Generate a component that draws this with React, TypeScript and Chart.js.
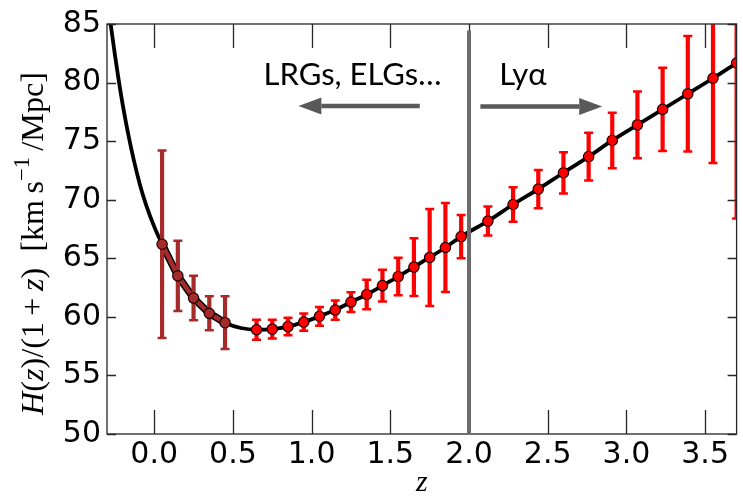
import React, { useEffect, useRef } from "react";
import { Chart, registerables } from "chart.js";
Chart.register(...registerables);

// ---- axes ----
const xTickValues = [0, 0.5, 1.0, 1.5, 2.0, 2.5, 3.0, 3.5];
const yTickValues = [50, 55, 60, 65, 70, 75, 80, 85];
const xRange = [-0.3, 3.7];
const yRange = [50, 85];

// ---- theory curve H(z)/(1+z) ----
const curveZ = [-0.3, -0.279, -0.25, -0.228, -0.2, -0.168, -0.13, -0.089, -0.05, 0.0, 0.05, 0.15, 0.25, 0.35, 0.45, 0.55, 0.65, 0.75, 0.85, 0.95, 1.05, 1.15, 1.25, 1.35, 1.45, 1.55, 1.65, 1.75, 1.85, 1.95, 2.12, 2.28, 2.44, 2.6, 2.76, 2.91, 3.07, 3.23, 3.39, 3.55, 3.7];
const curveH = [87.4, 85.2, 82.4, 80.4, 78.1, 75.8, 73.4, 71.2, 69.5, 67.7, 66.2, 63.5, 61.6, 60.3, 59.5, 59.05, 58.9, 58.95, 59.17, 59.55, 60.05, 60.58, 61.26, 61.91, 62.67, 63.44, 64.25, 65.07, 65.92, 66.85, 68.18, 69.59, 70.91, 72.3, 73.68, 75.06, 76.39, 77.71, 79.04, 80.37, 81.67];

// ---- low-z galaxy points (brown) ----
const lowZ = [0.05, 0.15, 0.25, 0.35, 0.45];
const lowH = [66.2, 63.5, 61.6, 60.3, 59.5];
const lowErr = [8.0, 3.0, 1.9, 1.45, 2.25];

// ---- galaxy forecast points (red) ----
const galZ = [0.65, 0.75, 0.85, 0.95, 1.05, 1.15, 1.25, 1.35, 1.45, 1.55, 1.65, 1.75, 1.85, 1.95];
const galH = [58.9, 58.95, 59.17, 59.55, 60.05, 60.58, 61.26, 61.91, 62.67, 63.44, 64.25, 65.07, 65.92, 66.85];
const galErr = [0.85, 0.8, 0.75, 0.73, 0.8, 0.82, 0.84, 1.25, 1.36, 1.6, 2.47, 4.14, 3.8, 1.85];

// ---- Lyman-alpha forecast points (red) ----
const lyaZ = [2.12, 2.28, 2.44, 2.6, 2.76, 2.91, 3.07, 3.23, 3.39, 3.55, 3.7];
const lyaH = [68.18, 69.59, 70.91, 72.3, 73.68, 75.06, 76.39, 77.71, 79.04, 80.37, 81.67];
const lyaErr = [1.24, 1.47, 1.63, 1.76, 2.04, 2.37, 2.84, 3.55, 4.93, 7.23, 13.27];

// ---- annotations ----
const dividerZ = 2.0;
const dividerTop = 84.45;
const leftLabel = "LRGs, ELGs…";
const rightLabel = "Lyα";
const leftLabelPos = [1.26, 79.83];
const rightLabelPos = [2.342, 79.8];
const leftArrow = [1.687, 0.916, 78.0];
const rightArrow = [2.072, 2.846, 77.95];
const xTitle = "z";

const BROWN = "#a52a2a";
const RED = "#ff0000";

const pts = (xs: number[], ys: number[]) => xs.map((x, i) => ({ x, y: ys[i] }));

export default function App() {
  const ref = useRef<HTMLCanvasElement>(null);

  useEffect(() => {
    const canvas = ref.current!;

    const drawErr = (chart: any, meta: any, ds: any) => {
      const ys = chart.scales.y;
      const ctx = chart.ctx as CanvasRenderingContext2D;
      const a = chart.chartArea;
      ctx.save();
      ctx.beginPath();
      ctx.rect(a.left, a.top, a.right - a.left, a.bottom - a.top);
      ctx.clip();
      ctx.strokeStyle = ds.errColor;
      meta.data.forEach((el: any, i: number) => {
        const v = ds.data[i].y;
        const e = ds.errors[i];
        const y1 = ys.getPixelForValue(v + e);
        const y2 = ys.getPixelForValue(v - e);
        ctx.lineWidth = 4.2;
        ctx.lineCap = "butt";
        ctx.beginPath();
        ctx.moveTo(el.x, y1);
        ctx.lineTo(el.x, y2);
        ctx.stroke();
        ctx.lineWidth = 2.5;
        ctx.beginPath();
        ctx.moveTo(el.x - 4.5, y1);
        ctx.lineTo(el.x + 4.5, y1);
        ctx.moveTo(el.x - 4.5, y2);
        ctx.lineTo(el.x + 4.5, y2);
        ctx.stroke();
      });
      ctx.restore();
    };

    const drawArrow = (ctx: CanvasRenderingContext2D, x0: number, x1: number, y: number) => {
      const dir = Math.sign(x1 - x0);
      const headLen = 23;
      const headHalf = 8.5;
      ctx.save();
      ctx.strokeStyle = "#595959";
      ctx.fillStyle = "#595959";
      ctx.lineWidth = 4.5;
      ctx.beginPath();
      ctx.moveTo(x0, y);
      ctx.lineTo(x1 - dir * headLen, y);
      ctx.stroke();
      ctx.beginPath();
      ctx.moveTo(x1, y);
      ctx.lineTo(x1 - dir * headLen, y - headHalf);
      ctx.lineTo(x1 - dir * headLen, y + headHalf);
      ctx.closePath();
      ctx.fill();
      ctx.restore();
    };

    const deco = {
      id: "deco",
      beforeDatasetDraw(chart: any, args: any) {
        const ds = chart.data.datasets[args.index];
        if (ds.errors) drawErr(chart, args.meta, ds);
      },
      afterDatasetsDraw(chart: any) {
        const ctx = chart.ctx as CanvasRenderingContext2D;
        const xs = chart.scales.x;
        const ys = chart.scales.y;
        const a = chart.chartArea;

        // frame + inward ticks
        ctx.save();
        ctx.strokeStyle = "#262626";
        ctx.lineWidth = 1.3;
        ctx.strokeRect(a.left, a.top, a.right - a.left, a.bottom - a.top);
        ctx.beginPath();
        xTickValues.forEach((v) => {
          const px = Math.round(xs.getPixelForValue(v)) + 0.5;
          ctx.moveTo(px, a.bottom);
          ctx.lineTo(px, a.bottom - 24);
          ctx.moveTo(px, a.top);
          ctx.lineTo(px, a.top + 24);
        });
        yTickValues.forEach((v) => {
          const py = Math.round(ys.getPixelForValue(v)) + 0.5;
          ctx.moveTo(a.left, py);
          ctx.lineTo(a.left + 9, py);
          ctx.moveTo(a.right, py);
          ctx.lineTo(a.right - 9, py);
        });
        ctx.stroke();
        ctx.restore();

        // divider
        ctx.save();
        ctx.strokeStyle = "#6b6b6b";
        ctx.lineWidth = 4;
        const dx = xs.getPixelForValue(dividerZ);
        ctx.beginPath();
        ctx.moveTo(dx, ys.getPixelForValue(dividerTop));
        ctx.lineTo(dx, ys.getPixelForValue(yRange[0]));
        ctx.stroke();
        ctx.restore();

        // labels
        ctx.save();
        ctx.fillStyle = "#000";
        ctx.font = "31px Lato, 'Open Sans', sans-serif";
        ctx.textAlign = "center";
        ctx.textBaseline = "alphabetic";
        ctx.fillText(leftLabel, xs.getPixelForValue(leftLabelPos[0]), ys.getPixelForValue(leftLabelPos[1]));
        ctx.fillText(rightLabel, xs.getPixelForValue(rightLabelPos[0]), ys.getPixelForValue(rightLabelPos[1]));
        ctx.restore();

        drawArrow(ctx, xs.getPixelForValue(leftArrow[0]), xs.getPixelForValue(leftArrow[1]), ys.getPixelForValue(leftArrow[2]));
        drawArrow(ctx, xs.getPixelForValue(rightArrow[0]), xs.getPixelForValue(rightArrow[1]), ys.getPixelForValue(rightArrow[2]));
      },
      afterDraw(chart: any) {
        const ctx = chart.ctx as CanvasRenderingContext2D;
        const a = chart.chartArea;
        // x title
        ctx.save();
        ctx.fillStyle = "#000";
        ctx.font = "italic 30px 'Liberation Serif', serif";
        ctx.textAlign = "center";
        ctx.textBaseline = "alphabetic";
        ctx.fillText(xTitle, (a.left + a.right) / 2, 491);
        ctx.restore();

        // y title with mathtext-like formatting
        const segs = [
          { t: "H", it: true },
          { t: "(", it: false },
          { t: "z", it: true },
          { t: ")/(1\u2009+\u2009", it: false },
          { t: "z", it: true },
          { t: ")\u2002[km\u2009s", it: false },
          { t: "\u22121", sup: true },
          { t: "\u2009/Mpc]", it: false },
        ] as { t: string; it?: boolean; sup?: boolean }[];
        const fam = "'Liberation Serif', serif";
        const fontFor = (s: any, F: number) => `${s.it ? "italic " : ""}${s.sup ? F * 0.7 : F}px ${fam}`;
        const measure = (F: number) =>
          segs.reduce((w, s) => {
            ctx.font = fontFor(s, F);
            return w + ctx.measureText(s.t).width;
          }, 0);
        const F = (30 * 343) / measure(30);
        const total = measure(F);
        ctx.save();
        ctx.translate(43, 243.5);
        ctx.rotate(-Math.PI / 2);
        ctx.fillStyle = "#000";
        ctx.textAlign = "left";
        ctx.textBaseline = "alphabetic";
        let x = -total / 2;
        segs.forEach((s) => {
          ctx.font = fontFor(s, F);
          ctx.fillText(s.t, x, s.sup ? -F * 0.42 : 0);
          x += ctx.measureText(s.t).width;
        });
        ctx.restore();
      },
    };

    const chart = new Chart(canvas, {
      type: "scatter",
      data: {
        datasets: [
          {
            label: "theory",
            data: pts(curveZ, curveH),
            showLine: true,
            borderColor: "#000",
            borderWidth: 3.8,
            pointRadius: 0,
            cubicInterpolationMode: "monotone",
            clip: 0,
            order: 10,
          } as any,
          {
            label: "low edge",
            data: pts(lowZ, lowH),
            showLine: true,
            borderColor: "#000",
            borderWidth: 7.5,
            pointRadius: 0,
            order: 9,
          } as any,
          {
            label: "low band",
            data: pts(lowZ, lowH),
            showLine: true,
            borderColor: BROWN,
            borderWidth: 4.5,
            pointRadius: 0,
            order: 8,
          } as any,
          {
            label: "low",
            data: pts(lowZ, lowH),
            errors: lowErr,
            errColor: BROWN,
            pointRadius: 5.2,
            pointBackgroundColor: BROWN,
            pointBorderColor: "#1a0000",
            pointBorderWidth: 1.2,
            clip: 0,
            order: 3,
          } as any,
          {
            label: "gal",
            data: pts(galZ, galH),
            errors: galErr,
            errColor: RED,
            pointRadius: 5.2,
            pointBackgroundColor: RED,
            pointBorderColor: "#1a0000",
            pointBorderWidth: 1.2,
            clip: 0,
            order: 2,
          } as any,
          {
            label: "lya",
            data: pts(lyaZ, lyaH),
            errors: lyaErr,
            errColor: RED,
            pointRadius: 5.2,
            pointBackgroundColor: RED,
            pointBorderColor: "#1a0000",
            pointBorderWidth: 1.2,
            clip: 0,
            order: 1,
          } as any,
        ],
      },
      options: {
        animation: false,
        responsive: false,
        devicePixelRatio: 1,
        layout: { padding: { top: 21, right: 6, left: 0, bottom: 0 } },
        plugins: { legend: { display: false }, tooltip: { enabled: false } },
        scales: {
          x: {
            type: "linear",
            min: xRange[0],
            max: xRange[1],
            afterBuildTicks: (s: any) => {
              s.ticks = xTickValues.map((v) => ({ value: v }));
            },
            afterFit: (s: any) => {
              s.height = 64;
            },
            ticks: {
              color: "#000",
              font: { family: "'DejaVu Sans'", size: 30 },
              padding: 3,
              maxRotation: 0,
              autoSkip: false,
              callback: (v: any) => Number(v).toFixed(1),
            },
            grid: { display: false, drawTicks: false },
            border: { display: false },
          },
          y: {
            type: "linear",
            min: yRange[0],
            max: yRange[1],
            afterBuildTicks: (s: any) => {
              s.ticks = yTickValues.map((v) => ({ value: v }));
            },
            afterFit: (s: any) => {
              s.width = 107;
            },
            ticks: {
              color: "#000",
              font: { family: "'DejaVu Sans'", size: 30 },
              padding: 6,
              autoSkip: false,
              callback: (v: any) => String(v),
            },
            grid: { display: false, drawTicks: false },
            border: { display: false },
          },
        },
      } as any,
      plugins: [deco],
    });
    return () => chart.destroy();
  }, []);

  return (
    <div style={{ position: "fixed", left: 0, top: 0, width: 743, height: 498, background: "#fff" }}>
      <canvas ref={ref} width={743} height={498} style={{ width: 743, height: 498, display: "block" }} />
    </div>
  );
}
